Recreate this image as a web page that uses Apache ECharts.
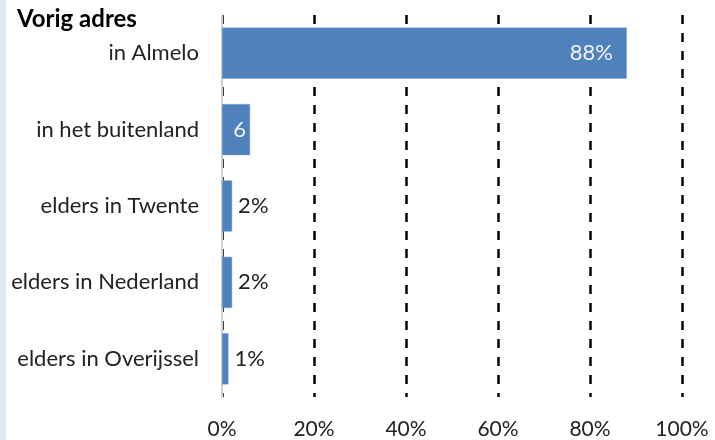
<!DOCTYPE html>
<html><head><meta charset="utf-8">
<script src="https://cdn.jsdelivr.net/npm/echarts@6/dist/echarts.min.js"></script>
<style>html,body{margin:0;padding:0;background:#fff}#c{width:715px;height:440px}</style>
</head><body><div id="c"></div>
<script>
const categories = ['in Almelo', 'in het buitenland', 'elders in Twente', 'elders in Nederland', 'elders in Overijssel'];
const values = [88, 6.1, 2.2, 2.2, 1.4];
const labelTexts = ['88%', '6', '2%', '2%', '1%'];
const labelInside = [true, true, false, false, false];
const xTicks = [0, 20, 40, 60, 80, 100];

const chart = echarts.init(document.getElementById('c'));
const FONT = 'Lato';
chart.setOption({
  animation: false,
  textStyle: { fontFamily: FONT },
  graphic: [
    { type: 'rect', left: 0, top: 0, shape: { width: 6, height: 440 }, style: { fill: '#dce9f5' } },
    { type: 'text', left: 17, top: 7, style: { text: 'Vorig adres', font: 'bold 24px ' + FONT, fill: '#000' } }
  ],
  grid: { left: 222, right: 33, top: 15, bottom: 43, containLabel: false },
  xAxis: {
    type: 'value', min: xTicks[0], max: xTicks[xTicks.length - 1], interval: 20,
    axisLine: { show: false }, axisTick: { show: false },
    axisLabel: { formatter: v => v + '%', color: '#222', fontSize: 21, fontFamily: FONT, margin: 22 },
    splitLine: { show: true, lineStyle: { color: '#000', width: 2.5, type: [9, 9] } }
  },
  yAxis: {
    type: 'category', data: categories, inverse: true,
    axisLine: { show: true, lineStyle: { color: '#d0d0d0', width: 2 } },
    axisTick: { show: false },
    axisLabel: { color: '#222', fontSize: 22, fontFamily: FONT, margin: 23 }
  },
  series: [{
    type: 'bar', barWidth: '67%',
    itemStyle: { color: '#4f81bd', borderColor: '#7aa2d6', borderWidth: 0.5 },
    data: values.map((v, i) => ({
      value: v,
      label: {
        show: true,
        position: labelInside[i] ? 'insideRight' : 'right',
        distance: labelInside[i] ? (i === 0 ? 14 : 4) : 6,
        color: labelInside[i] ? '#f2f2f2' : '#222',
        fontSize: 22, fontFamily: FONT,
        formatter: () => labelTexts[i]
      }
    }))
  }]
});
</script></body></html>
